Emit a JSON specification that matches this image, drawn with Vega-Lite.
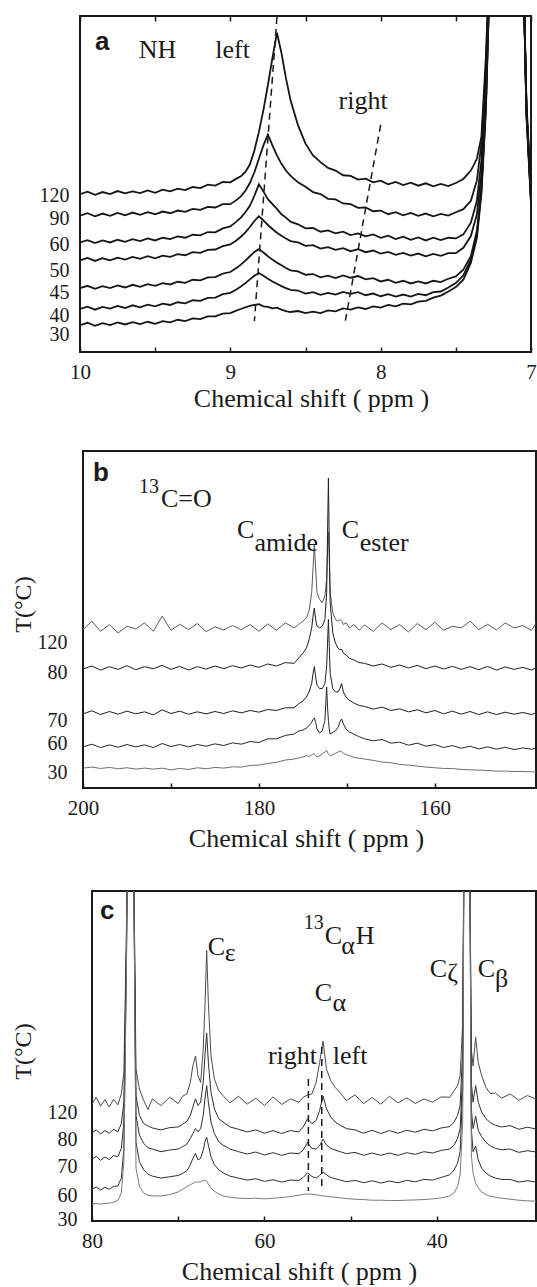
{
  "$schema": "https://vega.github.io/schema/vega-lite/v6.json",
  "padding": {"left": 3, "top": 13, "right": 0, "bottom": 0},
  "columns": 1,
  "spacing": 36,
  "resolve": {"scale": {"color": "independent"}},
  "config": {
    "view": {"stroke": "#1a1a1a", "strokeWidth": 2},
    "axis": {"grid": false, "domain": false, "labelFont": "Liberation Serif", "titleFont": "Liberation Serif", "labelColor": "#1a1a1a", "titleColor": "#1a1a1a", "titleFontWeight": "normal", "labelFontSize": 21, "titleFontSize": 26, "labelOverlap": false, "labelFlush": false, "tickColor": "#1a1a1a", "tickWidth": 1.5},
    "axisX": {"tickSize": -5, "labelBaseline": "alphabetic", "labelPadding": 31},
    "axisY": {"ticks": false, "labelFontSize": 20}
  },
  "datasets": {
    "spacer": [{"v": 0}],
    "a": [
      {"T": "120", "x": [10,9.95,9.9,9.85,9.8,9.75,9.7,9.65,9.6,9.55,9.5,9.45,9.4,9.35,9.3,9.25,9.2,9.15,9.1,9.05,9,8.96,8.93,8.9,8.87,8.84,8.81,8.78,8.75,8.72,8.69,8.66,8.63,8.6,8.55,8.5,8.45,8.4,8.35,8.3,8.25,8.2,8.15,8.1,8.05,8,7.95,7.9,7.85,7.8,7.75,7.7,7.65,7.6,7.55,7.5,7.45,7.4,7.36,7.33,7.3,7.25,7.1,7.05,7.03,7],
       "y": [47.0,47.7,46.8,47.6,47.0,47.9,47.2,47.8,47.3,48.1,47.4,48.3,47.8,48.6,48.2,49.1,48.8,49.8,49.5,50.6,50.5,51.6,52.3,53.6,55.8,60.0,65.5,72.0,79.5,87.5,95.0,89.0,81.5,75.0,67.5,62.0,58.5,56.5,54.8,54.0,52.6,52.4,51.3,51.6,50.5,51.0,49.9,50.6,49.7,50.4,49.5,50.2,49.3,50.0,49.4,50.3,51.5,54.0,57.5,64,88,150,150,112,74,48]},
      {"T": "90", "x": [10,9.95,9.9,9.85,9.8,9.75,9.7,9.65,9.6,9.55,9.5,9.45,9.4,9.35,9.3,9.25,9.2,9.15,9.1,9.05,9,8.96,8.93,8.9,8.87,8.84,8.81,8.78,8.75,8.72,8.69,8.66,8.63,8.6,8.55,8.5,8.45,8.4,8.35,8.3,8.25,8.2,8.15,8.1,8.05,8,7.95,7.9,7.85,7.8,7.75,7.7,7.65,7.6,7.55,7.5,7.45,7.4,7.36,7.33,7.3,7.25,7.1,7.05,7.03,7],
       "y": [40.6,41.3,40.4,41.2,40.5,41.4,40.7,41.5,40.8,41.6,41.0,41.8,41.3,42.1,41.7,42.6,42.3,43.2,43.0,44.0,44.0,45.2,46.3,48.0,50.3,53.5,57.5,61.5,64.7,61.5,58.5,56.0,54.0,52.5,50.5,49.2,47.6,47.0,45.6,45.4,44.2,44.0,42.9,43.0,41.9,42.1,41.0,41.6,40.7,41.4,40.5,41.2,40.4,41.1,40.6,41.6,42.5,45.0,51,62,84,150,150,112,73,47]},
      {"T": "60", "x": [10,9.95,9.9,9.85,9.8,9.75,9.7,9.65,9.6,9.55,9.5,9.45,9.4,9.35,9.3,9.25,9.2,9.15,9.1,9.05,9,8.96,8.93,8.9,8.87,8.84,8.81,8.78,8.75,8.72,8.69,8.66,8.63,8.6,8.55,8.5,8.45,8.4,8.35,8.3,8.25,8.2,8.15,8.1,8.05,8,7.95,7.9,7.85,7.8,7.75,7.7,7.65,7.6,7.55,7.5,7.45,7.4,7.36,7.33,7.3,7.25,7.1,7.05,7.03,7],
       "y": [32.6,33.3,32.4,33.2,32.6,33.4,32.8,33.6,33.0,33.8,33.2,34.0,33.6,34.4,34.0,34.9,34.7,35.7,35.6,36.8,37.4,38.8,40.0,41.6,43.5,46.5,49.9,47.8,45.5,44.0,42.6,41.0,40.0,38.8,38.0,36.8,36.9,35.8,36.2,35.3,35.8,34.8,35.3,34.4,35.0,34.0,34.6,33.6,34.3,33.4,34.1,33.2,34.0,33.3,34.0,33.8,35.0,38.5,45,57,80,150,150,112,72,46]},
      {"T": "50", "x": [10,9.95,9.9,9.85,9.8,9.75,9.7,9.65,9.6,9.55,9.5,9.45,9.4,9.35,9.3,9.25,9.2,9.15,9.1,9.05,9,8.96,8.93,8.9,8.87,8.84,8.81,8.78,8.75,8.72,8.69,8.66,8.63,8.6,8.55,8.5,8.45,8.4,8.35,8.3,8.25,8.2,8.15,8.1,8.05,8,7.95,7.9,7.85,7.8,7.75,7.7,7.65,7.6,7.55,7.5,7.45,7.4,7.36,7.33,7.3,7.25,7.1,7.05,7.03,7],
       "y": [27.3,28.0,27.1,27.9,27.3,28.1,27.5,28.3,27.7,28.5,27.9,28.7,28.3,29.1,28.8,29.7,29.5,30.4,30.5,31.5,32.0,33.2,34.3,35.6,37.2,39.0,40.4,39.2,37.8,36.6,35.5,34.6,33.8,33.0,32.6,31.6,31.8,30.8,31.2,30.4,30.9,30.0,30.6,29.7,30.2,29.3,29.8,28.9,29.5,28.7,29.3,28.5,29.2,28.6,29.4,29.4,31.0,34.5,41,53,76,150,150,112,72,46]},
      {"T": "45", "x": [10,9.95,9.9,9.85,9.8,9.75,9.7,9.65,9.6,9.55,9.5,9.45,9.4,9.35,9.3,9.25,9.2,9.15,9.1,9.05,9,8.96,8.93,8.9,8.87,8.84,8.81,8.78,8.75,8.72,8.69,8.66,8.63,8.6,8.55,8.5,8.45,8.4,8.35,8.3,8.25,8.2,8.15,8.1,8.05,8,7.95,7.9,7.85,7.8,7.75,7.7,7.65,7.6,7.55,7.5,7.45,7.4,7.36,7.33,7.3,7.25,7.1,7.05,7.03,7],
       "y": [19.0,19.7,18.8,19.6,19.0,19.8,19.2,20.0,19.4,20.2,19.7,20.5,20.1,20.9,20.6,21.5,21.3,22.2,22.3,23.3,23.8,25.0,26.0,27.2,28.5,29.8,30.6,29.6,28.5,27.5,26.6,25.8,25.0,24.3,24.0,23.0,23.2,22.2,22.7,22.0,22.8,22.1,22.6,21.6,22.0,21.0,21.5,20.6,21.2,20.4,21.0,20.4,21.2,20.8,21.8,22.5,24.5,28.5,36,49,74,150,150,112,71,45]},
      {"T": "40", "x": [10,9.95,9.9,9.85,9.8,9.75,9.7,9.65,9.6,9.55,9.5,9.45,9.4,9.35,9.3,9.25,9.2,9.15,9.1,9.05,9,8.96,8.93,8.9,8.87,8.84,8.81,8.78,8.75,8.72,8.69,8.66,8.63,8.6,8.55,8.5,8.45,8.4,8.35,8.3,8.25,8.2,8.15,8.1,8.05,8,7.95,7.9,7.85,7.8,7.75,7.7,7.65,7.6,7.55,7.5,7.45,7.4,7.36,7.33,7.3,7.25,7.1,7.05,7.03,7],
       "y": [12.8,13.5,12.6,13.4,12.9,13.7,13.1,13.9,13.3,14.1,13.6,14.4,14.0,14.8,14.5,15.4,15.2,16.1,16.2,17.2,17.6,18.6,19.5,20.5,21.6,22.7,23.5,22.7,21.8,21.0,20.3,19.6,19.0,18.5,18.3,17.4,17.8,17.0,17.6,17.1,17.9,17.3,17.8,16.9,17.4,16.6,17.2,16.5,17.1,16.5,17.3,16.9,17.8,18.0,19.2,20.5,22.8,27.5,35,48,73,150,150,112,71,45]},
      {"T": "30", "x": [10,9.95,9.9,9.85,9.8,9.75,9.7,9.65,9.6,9.55,9.5,9.45,9.4,9.35,9.3,9.25,9.2,9.15,9.1,9.05,9,8.96,8.93,8.9,8.87,8.84,8.81,8.78,8.75,8.72,8.69,8.66,8.63,8.6,8.55,8.5,8.45,8.4,8.35,8.3,8.25,8.2,8.15,8.1,8.05,8,7.95,7.9,7.85,7.8,7.75,7.7,7.65,7.6,7.55,7.5,7.45,7.4,7.36,7.33,7.3,7.25,7.1,7.05,7.03,7],
       "y": [8.0,8.7,7.8,8.6,8.0,8.8,8.2,8.9,8.3,9.0,8.4,9.2,8.8,9.6,9.2,10.0,9.8,10.6,10.6,11.4,11.6,12.3,12.8,13.3,13.7,14.0,14.2,13.6,13.4,13.0,13.2,12.6,12.2,11.9,12.2,11.6,12.0,11.6,12.4,12.1,13.0,12.6,13.3,12.8,13.6,13.2,14.0,13.6,14.4,14.2,15.0,15.2,16.2,16.8,18.0,19.3,21.5,26.5,34,47,72,150,150,112,70,44]}
    ],
    "b": [
      {"T": "120", "x": [200,199,198,197,196,195,194,193,192,191,190,189,188,187,186,185,184,183,182,181,180,179,178,177,176,175.5,175,174.6,174.3,174,173.85,173.7,173.55,173.4,173.1,172.8,172.5,172.3,172.2,172.1,172,171.9,171.6,171.3,171,170.8,170.6,170.4,170.1,169.7,169.2,168.6,168,167,166,165,164,163,162,161,160,159,158,157,156,155,154,153,152,151,150,149,148.5],
       "y": [47.0,49.5,46.5,48.5,46.0,48.0,47.2,49.0,46.5,51.0,46.8,48.6,47.0,48.8,46.4,47.8,46.9,48.2,47.0,48.5,46.5,48.7,46.8,49.0,47.5,48.5,49.5,50.5,52.5,58,65,72.4,65,58,56,55,57,62,70,76,68,58,52,50,49.5,50,49.5,48.5,49,47.5,48.5,46.8,48.4,46.5,49.0,47.0,48.5,46.3,48.8,47.0,49.2,46.8,48.0,47.5,49.5,47.0,48.6,46.9,49.0,47.5,48.2,46.8,48.9]},
      {"T": "80", "x": [200,199,198,197,196,195,194,193,192,191,190,189,188,187,186,185,184,183,182,181,180,179,178,177,176,175.5,175,174.6,174.3,174,173.85,173.7,173.55,173.4,173.1,172.8,172.5,172.3,172.2,172.1,172,171.9,171.6,171.3,171,170.8,170.6,170.4,170.1,169.7,169.2,168.6,168,167,166,165,164,163,162,161,160,159,158,157,156,155,154,153,152,151,150,149,148.5],
       "y": [35.3,36.2,35.0,36.0,35.2,36.3,35.1,36.0,35.4,36.4,35.2,36.1,35.0,36.0,35.3,36.2,35.4,36.3,35.6,36.5,35.8,36.8,36.2,37.2,37.0,38.5,40.0,41.5,44.0,47.5,51,53.4,50,48,47.5,48,50,58,75,92,72,55,46,43,41.5,41,41.2,40,39.5,38.5,38.0,37.2,37.0,36.2,36.8,35.8,36.5,35.6,36.4,35.4,36.2,35.3,36.1,35.2,36.0,35.1,36.1,35.0,35.9,35.2,35.8,35.0,35.7]},
      {"T": "70", "x": [200,199,198,197,196,195,194,193,192,191,190,189,188,187,186,185,184,183,182,181,180,179,178,177,176,175.5,175,174.6,174.3,174,173.85,173.7,173.55,173.4,173.1,172.8,172.5,172.3,172.2,172.1,172,171.9,171.6,171.3,171,170.8,170.6,170.4,170.1,169.7,169.2,168.6,168,167,166,165,164,163,162,161,160,159,158,157,156,155,154,153,152,151,150,149,148.5],
       "y": [22.0,22.9,21.8,22.7,21.9,22.8,22.0,22.6,21.7,23.2,22.1,22.8,21.9,22.6,22.0,22.7,22.1,22.9,22.3,23.0,22.5,23.3,23.0,23.8,23.8,25.0,25.8,27.0,28.5,31.0,34,36,33,30.5,29.5,29.5,31,36,43,50,42,34,29.5,28.5,28.5,29.5,31,28.5,27,26,25.2,24.5,24.2,23.4,24.0,23.0,23.5,22.6,23.2,22.3,23.0,22.0,22.8,21.9,22.7,21.8,22.6,21.8,22.5,21.9,22.4,21.8,22.3]},
      {"T": "60", "x": [200,199,198,197,196,195,194,193,192,191,190,189,188,187,186,185,184,183,182,181,180,179,178,177,176,175.5,175,174.6,174.3,174,173.85,173.7,173.55,173.4,173.1,172.8,172.5,172.3,172.2,172.1,172,171.9,171.6,171.3,171,170.8,170.6,170.4,170.1,169.7,169.2,168.6,168,167,166,165,164,163,162,161,160,159,158,157,156,155,154,153,152,151,150,149,148.5],
       "y": [12.2,13.0,12.0,12.8,12.1,12.9,12.2,12.8,12.0,13.2,12.3,12.9,12.2,12.9,12.4,13.1,12.6,13.4,13.0,13.8,13.5,14.6,14.6,15.6,16.0,16.9,17.2,17.8,18.5,19.5,20.3,20.8,19.5,17.5,16.3,17.0,20,30,24,20,17.5,16.0,16.5,17,18,19.5,20.5,19,17.5,16.6,16.0,15.2,14.6,14.0,14.4,13.3,13.6,12.7,13.3,12.4,12.9,12.0,12.6,11.8,12.4,11.6,12.2,11.5,12.1,11.4,11.9,11.5,11.8]},
      {"T": "30", "x": [200,199,198,197,196,195,194,193,192,191,190,189,188,187,186,185,184,183,182,181,180,179,178,177,176,175.5,175,174.6,174.3,174,173.85,173.7,173.55,173.4,173.1,172.8,172.5,172.3,172.2,172.1,172,171.9,171.6,171.3,171,170.8,170.6,170.4,170.1,169.7,169.2,168.6,168,167,166,165,164,163,162,161,160,159,158,157,156,155,154,153,152,151,150,149,148.5],
       "y": [5.9,6.2,5.8,6.1,5.7,6.0,5.6,5.9,5.6,5.9,5.4,5.8,5.5,6.0,5.7,6.1,5.9,6.3,6.2,6.7,6.8,7.3,7.6,8.3,8.6,8.9,9.2,9.6,9.4,9.8,10.2,10.0,9.6,9.3,9.5,10.2,10.6,11.2,10.6,10.0,9.7,9.6,9.9,10.3,10.7,11.0,10.8,10.3,9.9,9.6,9.1,8.8,8.6,8.2,7.7,7.5,7.0,6.8,6.5,6.2,6.0,5.8,5.8,5.5,5.4,5.3,5.2,5.0,5.0,4.9,4.9,4.8,4.8]}
    ],
    "c": [
      {"T": "120", "x": [80,79.5,79,78.5,78,77.5,77,76.6,76.3,76,75.8,75.6,75.4,75.2,74.9,74.5,74,73.5,73,72,71,70,69.5,69,68.6,68.3,68,67.7,67.4,67.1,66.9,66.7,66.5,66.2,65.8,65.3,64.8,64,63,62,61,60,59,58,57,56,55.5,55,54.5,54,53.6,53.2,52.8,52.3,51.8,51.2,50.5,49.5,48.5,47.5,46.5,45.5,44.5,43.5,42.5,41.5,40.5,39.5,38.5,38,37.6,37.3,37,36.8,36.6,36.5,36.4,36.2,36,35.8,35.5,35.2,34.8,34.3,33.8,33.2,32.5,31.5,30.5,29.5,28.5],
       "y": [35.5,37.5,34.8,36.8,34.5,36.9,35.2,38.5,45,90,140,300,300,120,46,40,36.5,33.8,37.0,35.0,37.5,35.6,37.8,38.5,42,47,50,44,42,52,65,82,66,50,43,39.5,38,35.8,37.8,35.4,37.2,35.0,37.6,35.3,37.0,36.0,37.5,38.2,38.5,42,48,54.5,46,42.5,40.5,38.8,36.5,38.2,35.6,37.4,35.4,37.8,35.8,37.3,35.6,37.0,36.0,37.6,37.5,39.5,41,44,60,140,400,500,300,120,52,47,55.7,48,44,40.5,38.6,38.8,37.2,38.5,36.6,38.0,37.0]},
      {"T": "80", "x": [80,79.5,79,78.5,78,77.5,77,76.6,76.3,76,75.8,75.6,75.4,75.2,74.9,74.5,74,73.5,73,72,71,70,69.5,69,68.6,68.3,68,67.7,67.4,67.1,66.9,66.7,66.5,66.2,65.8,65.3,64.8,64,63,62,61,60,59,58,57,56,55.5,55,54.5,54,53.6,53.2,52.8,52.3,51.8,51.2,50.5,49.5,48.5,47.5,46.5,45.5,44.5,43.5,42.5,41.5,40.5,39.5,38.5,38,37.6,37.3,37,36.8,36.6,36.5,36.4,36.2,36,35.8,35.5,35.2,34.8,34.3,33.8,33.2,32.5,31.5,30.5,29.5,28.5],
       "y": [26.7,27.6,26.4,27.4,26.6,27.8,27.0,29.5,36,85,140,300,300,120,38,32,29.5,28.8,28.2,27.6,28.3,28.5,29.3,30.2,32,34.5,37,35,36,42,50,57,48,39,34,31,30,28.5,27.8,27.0,27.6,26.6,27.4,26.5,27.4,27.0,28.5,31,29.5,30.5,33.5,37.9,34,31.5,30,29,28,27.6,26.6,27.5,26.5,27.4,26.6,27.5,26.9,27.8,27.3,28.2,28.6,30,32,35,52,140,400,500,300,120,42,36,41,36,33,31,29.8,29.0,28.5,28.9,27.8,28.4,27.9]},
      {"T": "70", "x": [80,79.5,79,78.5,78,77.5,77,76.6,76.3,76,75.8,75.6,75.4,75.2,74.9,74.5,74,73.5,73,72,71,70,69.5,69,68.6,68.3,68,67.7,67.4,67.1,66.9,66.7,66.5,66.2,65.8,65.3,64.8,64,63,62,61,60,59,58,57,56,55.5,55,54.5,54,53.6,53.2,52.8,52.3,51.8,51.2,50.5,49.5,48.5,47.5,46.5,45.5,44.5,43.5,42.5,41.5,40.5,39.5,38.5,38,37.6,37.3,37,36.8,36.6,36.5,36.4,36.2,36,35.8,35.5,35.2,34.8,34.3,33.8,33.2,32.5,31.5,30.5,29.5,28.5],
       "y": [18.8,19.6,18.4,19.4,18.6,19.8,19.5,22,30,82,140,300,300,120,32,26,23.5,22.2,21.8,21.0,21.5,21.8,22.5,23.3,25,26.5,28,27,28,32,37,41,36,30,26.5,24,23,21.8,21.0,20.3,20.9,20.0,20.7,19.9,20.6,20.4,21.5,23.8,22,21.8,22.8,24.8,23,22,21.5,21,20.4,20.8,19.9,20.6,19.9,20.6,19.9,20.7,20.2,21.0,20.6,21.4,21.8,23,25,28,45,140,400,500,300,120,34,28,31.8,27.5,25.5,23.8,22.8,22.0,21.6,21.8,20.8,21.3,20.9]},
      {"T": "60", "x": [80,79.5,79,78.5,78,77.5,77,76.6,76.3,76,75.8,75.6,75.4,75.2,74.9,74.5,74,73.5,73,72,71,70,69.5,69,68.6,68.3,68,67.7,67.4,67.1,66.9,66.7,66.5,66.2,65.8,65.3,64.8,64,63,62,61,60,59,58,57,56,55.5,55,54.5,54,53.6,53.2,52.8,52.3,51.8,51.2,50.5,49.5,48.5,47.5,46.5,45.5,44.5,43.5,42.5,41.5,40.5,39.5,38.5,38,37.6,37.3,37,36.8,36.6,36.5,36.4,36.2,36,35.8,35.5,35.2,34.8,34.3,33.8,33.2,32.5,31.5,30.5,29.5,28.5],
       "y": [9.7,10.3,9.4,10.2,9.6,10.5,10.6,13,22,80,140,300,300,120,24,18,15.5,14.2,13.6,13.0,13.4,13.8,14.4,15.2,17,19,20.5,18.5,19,21.5,24,25.4,23,19.5,17,15.5,14.6,13.6,13.0,12.4,12.8,12.0,12.5,11.8,12.4,12.3,13.2,14.6,13.5,13.0,13.8,14.8,14.0,13.2,12.8,12.4,11.9,12.3,11.6,12.2,11.5,12.1,11.6,12.3,11.9,12.6,12.4,13.2,14.0,15.5,17.5,21,40,140,400,500,300,120,28,21,22.7,18.5,16,14.5,13.6,13.0,12.6,12.6,11.8,12.2,11.8]},
      {"T": "30", "x": [80,79.5,79,78.5,78,77.5,77,76.6,76.3,76,75.8,75.6,75.4,75.2,74.9,74.5,74,73.5,73,72,71,70,69.5,69,68.6,68.3,68,67.7,67.4,67.1,66.9,66.7,66.5,66.2,65.8,65.3,64.8,64,63,62,61,60,59,58,57,56,55.5,55,54.5,54,53.6,53.2,52.8,52.3,51.8,51.2,50.5,49.5,48.5,47.5,46.5,45.5,44.5,43.5,42.5,41.5,40.5,39.5,38.5,38,37.6,37.3,37,36.8,36.6,36.5,36.4,36.2,36,35.8,35.5,35.2,34.8,34.3,33.8,33.2,32.5,31.5,30.5,29.5,28.5],
       "y": [5.2,5.3,5.1,5.3,5.4,5.7,6.2,8.5,18,78,140,300,300,120,16,10.5,8.5,7.8,7.6,7.6,8.0,8.8,9.6,10.4,11.0,11.4,11.8,11.8,11.9,12.3,12.4,12.0,11.2,10.0,9.0,8.2,7.6,7.2,6.9,6.8,6.9,6.7,6.9,7.1,7.4,7.8,8.1,8.2,8.1,7.9,7.8,7.6,7.5,7.3,7.2,7.0,6.8,6.6,6.5,6.3,6.3,6.2,6.2,6.3,6.4,6.5,6.7,7.0,7.6,8.5,10.5,14,30,140,400,500,300,120,20,14.5,11.5,10,8.8,8.0,7.5,7.2,6.9,6.6,6.3,6.1,6.0]}
    ],
    "adash": [{"x": 8.69, "y": 99.7, "x2": 8.84, "y2": 9.2}, {"x": 8.0, "y": 67.6, "x2": 8.24, "y2": 8.0}],
    "cdash": [{"x": 54.9, "y": 43, "x2": 54.9, "y2": 9.1}, {"x": 53.35, "y": 52.7, "x2": 53.35, "y2": 9.1}],
    "aletter": [{"x": 9.9, "y": 89.9, "t": "a"}],
    "alabel": [{"x": 9.61, "y": 87.5, "t": "NH"}, {"x": 9.1, "y": 87.5, "t": "left"}, {"x": 8.28, "y": 72.3, "t": "right"}],
    "bletter": [{"x": 198.86, "y": 91.1, "t": "b"}],
    "blabel": [{"x": 191.14, "y": 83.4, "t": "C=O"}, {"x": 182.5, "y": 74.2, "t": "C"}, {"x": 180.5, "y": 70.3, "t": "amide"}, {"x": 170.57, "y": 74.2, "t": "C"}, {"x": 168.55, "y": 70.3, "t": "ester"}],
    "bsup": [{"x": 193.64, "y": 87.5, "t": "13"}],
    "cletter": [{"x": 79.07, "y": 91.5, "t": "c"}],
    "clabel": [{"x": 66.56, "y": 80.6, "t": "C"}, {"x": 64.6, "y": 78.8, "t": "ε"}, {"x": 53.0, "y": 83.9, "t": "C"}, {"x": 51.1, "y": 80.9, "t": "α"}, {"x": 49.4, "y": 83.9, "t": "H"}, {"x": 54.16, "y": 66.7, "t": "C"}, {"x": 52.1, "y": 63.6, "t": "α"}, {"x": 40.83, "y": 73.9, "t": "C"}, {"x": 38.8, "y": 72.7, "t": "ζ"}, {"x": 35.27, "y": 73.9, "t": "C"}, {"x": 33.25, "y": 70.9, "t": "β"}, {"x": 59.6, "y": 47.6, "t": "right"}, {"x": 52.07, "y": 47.6, "t": "left"}],
    "csup": [{"x": 55.43, "y": 88.5, "t": "13"}]
  },
  "concat": [
    {"spacing": 0, "hconcat": [
    {"width": 1, "height": 1, "view": {"stroke": null}, "data": {"name": "spacer"}, "mark": {"type": "point", "opacity": 0}, "encoding": {}},
    {
      "width": 451, "height": 336,
      "resolve": {"axis": {"x": "independent", "y": "independent"}},
      "layer": [
        {
          "data": {"name": "a"},
          "transform": [{"flatten": ["x", "y"]}],
          "mark": {"type": "line", "clip": true, "strokeWidth": 1.8},
          "encoding": {
            "x": {"field": "x", "type": "quantitative", "scale": {"domain": [7, 10], "reverse": true, "nice": false, "zero": false},
                  "axis": {"values": [7, 7.5, 8, 8.5, 9, 9.5, 10], "labelExpr": "datum.value % 1 === 0 ? '' + datum.value : ''", "title": "Chemical shift ( ppm )", "titleX": 231, "titleY": 54, "titleAlign": "center", "titleBaseline": "alphabetic"}},
            "y": {"field": "y", "type": "quantitative", "scale": {"domain": [0, 100], "nice": false, "zero": false},
                  "axis": {"values": [5.1, 11.0, 17.6, 24.4, 32.1, 39.6, 46.7], "labelExpr": "datum.value < 8 ? '30' : datum.value < 14 ? '40' : datum.value < 20 ? '45' : datum.value < 28 ? '50' : datum.value < 35 ? '60' : datum.value < 43 ? '90' : '120'", "labelPadding": 11, "title": "T(°C)", "titleOpacity": 0, "titleX": -57, "titleY": 153, "titleAngle": 270, "titleAlign": "center", "titleBaseline": "middle", "titleFontSize": 24}},
            "color": {"field": "T", "type": "nominal", "scale": {"domain": ["120", "90", "60", "50", "45", "40", "30"], "range": ["#151515", "#151515", "#151515", "#151515", "#151515", "#151515", "#151515"]}, "legend": null}
          }
        },
        {
          "data": {"name": "adash"},
          "mark": {"type": "rule", "strokeDash": [7, 5], "strokeWidth": 1.5, "color": "#1a1a1a"},
          "encoding": {
            "x": {"field": "x", "type": "quantitative", "scale": {"domain": [7, 10], "reverse": true, "nice": false, "zero": false},
                  "axis": {"orient": "top", "labels": false, "values": [7, 7.5, 8, 8.5, 9, 9.5, 10], "title": null, "tickSize": -5}},
            "x2": {"field": "x2"},
            "y": {"field": "y", "type": "quantitative", "scale": {"domain": [0, 100], "nice": false, "zero": false}, "axis": null},
            "y2": {"field": "y2"}
          }
        },
        {
          "data": {"name": "aletter"},
          "mark": {"type": "text", "font": "Liberation Sans", "fontWeight": "bold", "fontSize": 26, "align": "left", "baseline": "alphabetic", "color": "#1a1a1a"},
          "encoding": {
            "x": {"field": "x", "type": "quantitative", "scale": {"domain": [7, 10], "reverse": true, "nice": false, "zero": false}, "axis": null},
            "y": {"field": "y", "type": "quantitative", "scale": {"domain": [0, 100], "nice": false, "zero": false}, "axis": null},
            "text": {"field": "t"}
          }
        },
        {
          "data": {"name": "alabel"},
          "mark": {"type": "text", "font": "Liberation Serif", "fontSize": 26, "align": "left", "baseline": "alphabetic", "color": "#1a1a1a"},
          "encoding": {
            "x": {"field": "x", "type": "quantitative", "scale": {"domain": [7, 10], "reverse": true, "nice": false, "zero": false}, "axis": null},
            "y": {"field": "y", "type": "quantitative", "scale": {"domain": [0, 100], "nice": false, "zero": false}, "axis": null},
            "text": {"field": "t"}
          }
        }
      ]
    }]},
    {"spacing": 0, "hconcat": [
    {"width": 1, "height": 1, "view": {"stroke": null}, "data": {"name": "spacer"}, "mark": {"type": "point", "opacity": 0}, "encoding": {}},
    {
      "width": 453, "height": 337,
      "resolve": {"axis": {"x": "independent", "y": "independent"}},
      "layer": [
        {
          "data": {"name": "b"},
          "transform": [{"flatten": ["x", "y"]}],
          "mark": {"type": "line", "clip": true, "strokeWidth": 1},
          "encoding": {
            "x": {"field": "x", "type": "quantitative", "scale": {"domain": [148.5, 200], "reverse": true, "nice": false, "zero": false},
                  "axis": {"values": [160, 170, 180, 190, 200], "labelExpr": "datum.value % 20 === 0 ? '' + datum.value : ''", "title": "Chemical shift ( ppm )", "titleX": 223, "titleY": 58, "titleAlign": "center", "titleBaseline": "alphabetic"}},
            "y": {"field": "y", "type": "quantitative", "scale": {"domain": [0, 100], "nice": false, "zero": false},
                  "axis": {"values": [4.5, 13.1, 19.9, 34.4, 43.3], "labelExpr": "datum.value < 8 ? '30' : datum.value < 16 ? '60' : datum.value < 25 ? '70' : datum.value < 38 ? '80' : '120'", "labelPadding": 16, "title": "T(°C)", "titleX": -60, "titleY": 153, "titleAngle": 270, "titleAlign": "center", "titleBaseline": "middle", "titleFontSize": 24}},
            "color": {"field": "T", "type": "nominal", "scale": {"domain": ["120", "80", "70", "60", "30"], "range": ["#5a5a5a", "#1e1e1e", "#1e1e1e", "#262626", "#6e6e6e"]}, "legend": null}
          }
        },
        {
          "data": {"name": "bletter"},
          "mark": {"type": "text", "font": "Liberation Sans", "fontWeight": "bold", "fontSize": 26, "align": "left", "baseline": "alphabetic", "color": "#1a1a1a"},
          "encoding": {
            "x": {"field": "x", "type": "quantitative", "scale": {"domain": [148.5, 200], "reverse": true, "nice": false, "zero": false}, "axis": null},
            "y": {"field": "y", "type": "quantitative", "scale": {"domain": [0, 100], "nice": false, "zero": false}, "axis": null},
            "text": {"field": "t"}
          }
        },
        {
          "data": {"name": "blabel"},
          "mark": {"type": "text", "font": "Liberation Serif", "fontSize": 26, "align": "left", "baseline": "alphabetic", "color": "#1a1a1a"},
          "encoding": {
            "x": {"field": "x", "type": "quantitative", "scale": {"domain": [148.5, 200], "reverse": true, "nice": false, "zero": false}, "axis": null},
            "y": {"field": "y", "type": "quantitative", "scale": {"domain": [0, 100], "nice": false, "zero": false}, "axis": null},
            "text": {"field": "t"}
          }
        },
        {
          "data": {"name": "bsup"},
          "mark": {"type": "text", "font": "Liberation Serif", "fontSize": 20, "align": "left", "baseline": "alphabetic", "color": "#1a1a1a"},
          "encoding": {
            "x": {"field": "x", "type": "quantitative", "scale": {"domain": [148.5, 200], "reverse": true, "nice": false, "zero": false}, "axis": null},
            "y": {"field": "y", "type": "quantitative", "scale": {"domain": [0, 100], "nice": false, "zero": false}, "axis": null},
            "text": {"field": "t"}
          }
        }
      ]
    }]},
    {"spacing": 0, "hconcat": [
    {"width": 1, "height": 1, "view": {"stroke": null}, "data": {"name": "spacer"}, "mark": {"type": "point", "opacity": 0}, "encoding": {}},
    {
      "width": 444, "height": 330,
      "resolve": {"axis": {"x": "independent", "y": "independent"}},
      "layer": [
        {
          "data": {"name": "c"},
          "transform": [{"flatten": ["x", "y"]}],
          "mark": {"type": "line", "clip": true, "strokeWidth": 1},
          "encoding": {
            "x": {"field": "x", "type": "quantitative", "scale": {"domain": [28.5, 80], "reverse": true, "nice": false, "zero": false},
                  "axis": {"values": [40, 50, 60, 70, 80], "labelExpr": "datum.value % 20 === 0 ? '' + datum.value : ''", "title": "Chemical shift ( ppm )", "titleX": 207, "titleY": 58, "titleAlign": "center", "titleBaseline": "alphabetic"}},
            "y": {"field": "y", "type": "quantitative", "scale": {"domain": [0, 100], "nice": false, "zero": false},
                  "axis": {"values": [0.5, 7.6, 16.4, 24.8, 33], "labelExpr": "datum.value < 3 ? '30' : datum.value < 12 ? '60' : datum.value < 20 ? '70' : datum.value < 29 ? '80' : '120'", "labelPadding": 15, "title": "T(°C)", "titleX": -69, "titleY": 160, "titleAngle": 270, "titleAlign": "center", "titleBaseline": "middle", "titleFontSize": 24}},
            "color": {"field": "T", "type": "nominal", "scale": {"domain": ["120", "80", "70", "60", "30"], "range": ["#4a4a4a", "#2e2e2e", "#2e2e2e", "#2e2e2e", "#7a7a7a"]}, "legend": null}
          }
        },
        {
          "data": {"name": "cdash"},
          "mark": {"type": "rule", "strokeDash": [7, 5], "strokeWidth": 1.5, "color": "#1a1a1a"},
          "encoding": {
            "x": {"field": "x", "type": "quantitative", "scale": {"domain": [28.5, 80], "reverse": true, "nice": false, "zero": false}, "axis": null},
            "x2": {"field": "x2"},
            "y": {"field": "y", "type": "quantitative", "scale": {"domain": [0, 100], "nice": false, "zero": false}, "axis": null},
            "y2": {"field": "y2"}
          }
        },
        {
          "data": {"name": "cletter"},
          "mark": {"type": "text", "font": "Liberation Sans", "fontWeight": "bold", "fontSize": 26, "align": "left", "baseline": "alphabetic", "color": "#1a1a1a"},
          "encoding": {
            "x": {"field": "x", "type": "quantitative", "scale": {"domain": [28.5, 80], "reverse": true, "nice": false, "zero": false}, "axis": null},
            "y": {"field": "y", "type": "quantitative", "scale": {"domain": [0, 100], "nice": false, "zero": false}, "axis": null},
            "text": {"field": "t"}
          }
        },
        {
          "data": {"name": "clabel"},
          "mark": {"type": "text", "font": "Liberation Serif", "fontSize": 26, "align": "left", "baseline": "alphabetic", "color": "#1a1a1a"},
          "encoding": {
            "x": {"field": "x", "type": "quantitative", "scale": {"domain": [28.5, 80], "reverse": true, "nice": false, "zero": false}, "axis": null},
            "y": {"field": "y", "type": "quantitative", "scale": {"domain": [0, 100], "nice": false, "zero": false}, "axis": null},
            "text": {"field": "t"}
          }
        },
        {
          "data": {"name": "csup"},
          "mark": {"type": "text", "font": "Liberation Serif", "fontSize": 20, "align": "left", "baseline": "alphabetic", "color": "#1a1a1a"},
          "encoding": {
            "x": {"field": "x", "type": "quantitative", "scale": {"domain": [28.5, 80], "reverse": true, "nice": false, "zero": false}, "axis": null},
            "y": {"field": "y", "type": "quantitative", "scale": {"domain": [0, 100], "nice": false, "zero": false}, "axis": null},
            "text": {"field": "t"}
          }
        }
      ]
    }]}
  ]
}
